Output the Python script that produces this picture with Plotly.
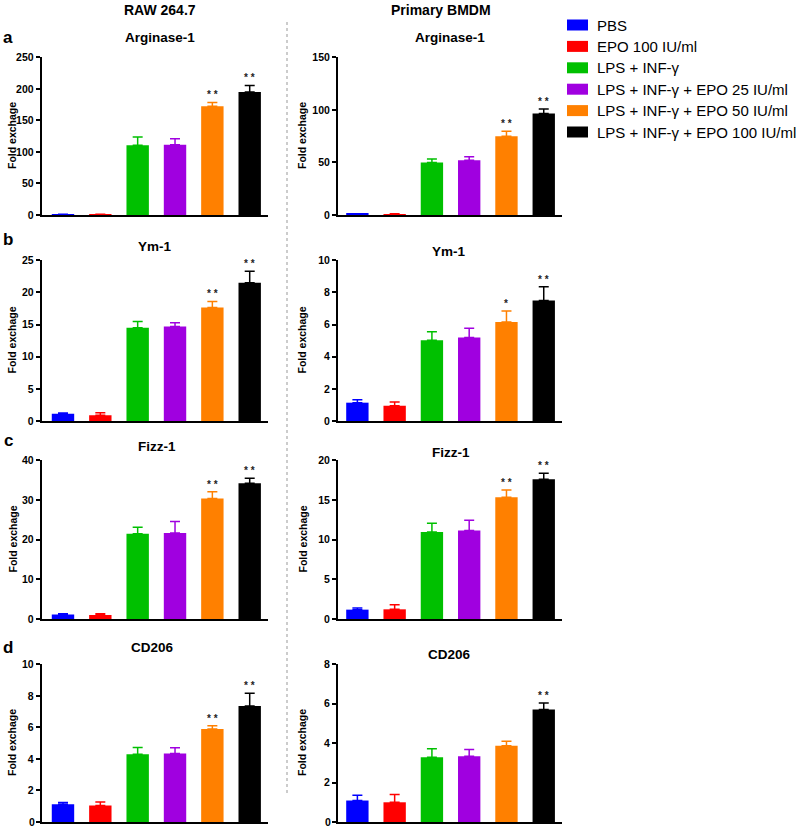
import plotly.graph_objects as go

W, H = 799, 828

categories = ["PBS", "EPO 100 IU/ml", "LPS + INF-γ", "LPS + INF-γ + EPO 25 IU/ml",
              "LPS + INF-γ + EPO 50 IU/ml", "LPS + INF-γ + EPO 100 IU/ml"]
colors = ["#0000ff", "#ff0000", "#00c000", "#a000e0", "#ff8000", "#000000"]

genes = ["Arginase-1", "Ym-1", "Fizz-1", "CD206"]
panel_letters = ["a", "b", "c", "d"]
col_headers = ["RAW 264.7", "Primary BMDM"]

# RAW 264.7
raw_arg = [1.0, 1.0, 110.5, 111.5, 172.5, 195.0]
raw_arg_err = [0.3, 0.3, 13.0, 9.5, 6.0, 10.5]
raw_ym = [1.14, 0.88, 14.5, 14.7, 17.65, 21.5]
raw_ym_err = [0.1, 0.4, 1.0, 0.6, 0.95, 1.8]
raw_fizz = [1.15, 1.0, 21.5, 21.7, 30.4, 34.2]
raw_fizz_err = [0.15, 0.3, 1.6, 2.9, 1.7, 1.3]
raw_cd = [1.12, 1.04, 4.29, 4.35, 5.9, 7.35]
raw_cd_err = [0.11, 0.23, 0.44, 0.36, 0.2, 0.82]

# Primary BMDM
bm_arg = [1.0, 0.9, 50.0, 52.0, 75.0, 96.5]
bm_arg_err = [0.2, 0.2, 3.3, 3.5, 4.7, 4.3]
bm_ym = [1.14, 0.95, 5.02, 5.2, 6.16, 7.5]
bm_ym_err = [0.19, 0.23, 0.54, 0.57, 0.69, 0.85]
bm_fizz = [1.18, 1.22, 10.95, 11.16, 15.33, 17.6]
bm_fizz_err = [0.21, 0.59, 1.13, 1.3, 0.92, 0.76]
bm_cd = [1.09, 1.0, 3.28, 3.33, 3.87, 5.71]
bm_cd_err = [0.27, 0.39, 0.44, 0.35, 0.23, 0.33]

# significance marks
raw_sig = [["", "", "", "", "* *", "* *"]] * 4
bm_sig = [["", "", "", "", "* *", "* *"],
          ["", "", "", "", "*", "* *"],
          ["", "", "", "", "* *", "* *"],
          ["", "", "", "", "", "* *"]]

raw_ymax = [250, 25, 40, 10]
raw_dtick = [50, 5, 10, 2]
bm_ymax = [150, 10, 20, 8]
bm_dtick = [50, 2, 5, 2]

raw_means = [raw_arg, raw_ym, raw_fizz, raw_cd]
raw_errs = [raw_arg_err, raw_ym_err, raw_fizz_err, raw_cd_err]
bm_means = [bm_arg, bm_ym, bm_fizz, bm_cd]
bm_errs = [bm_arg_err, bm_ym_err, bm_fizz_err, bm_cd_err]

FONT = "Liberation Sans, Arial, sans-serif"

# layout geometry (pixels from top-left)
col_x = [(41.7, 268.0), (338.0, 562.0)]
col_xrange = [(-0.57, 5.49), (-0.52, 5.49)]
row_y = [(57, 215), (260, 421), (460, 619), (664, 822)]
title_pos = [[(160, 38), (450, 38)], [(155, 246), (449, 251)],
             [(157, 447), (451, 452)], [(152, 647), (449, 654)]]
letter_y = [38, 240, 440, 647]


def ann(x, y, text, size, **kw):
    d = dict(x=x / W, y=1 - y / H, xref="paper", yref="paper", text=text,
             showarrow=False, xanchor="center", yanchor="middle",
             font=dict(family=FONT, size=size, color="black"))
    d.update(kw)
    return d


fig = go.Figure()
annotations = []
shapes = []
layout_axes = {}

idx = 0
for r in range(4):
    for c in range(2):
        idx += 1
        xa = "x" if idx == 1 else f"x{idx}"
        ya = "y" if idx == 1 else f"y{idx}"
        means = raw_means[r] if c == 0 else bm_means[r]
        errs = raw_errs[r] if c == 0 else bm_errs[r]
        sig = raw_sig[r] if c == 0 else bm_sig[r]
        ymax = raw_ymax[r] if c == 0 else bm_ymax[r]
        dtick = raw_dtick[r] if c == 0 else bm_dtick[r]
        for k in range(6):
            fig.add_trace(go.Bar(
                x=[k], y=[means[k]], width=0.6,
                marker=dict(color=colors[k], line=dict(width=0)),
                error_y=dict(type="data", symmetric=False, array=[errs[k]],
                             arrayminus=[0], color=colors[k], thickness=1.5, width=5),
                name=categories[k], showlegend=False,
                xaxis=xa, yaxis=ya,
            ))
            if sig[k]:
                annotations.append(dict(
                    x=k, y=means[k] + errs[k], xref=xa, yref=ya,
                    text=f"<b>{sig[k]}</b>", showarrow=False, xanchor="center",
                    yanchor="bottom", yshift=0,
                    font=dict(family=FONT, size=10, color="#222")))
        x0, x1 = col_x[c]
        y0, y1 = row_y[r]
        xkey = "xaxis" if idx == 1 else f"xaxis{idx}"
        ykey = "yaxis" if idx == 1 else f"yaxis{idx}"
        tickvals = list(range(0, ymax + 1, dtick))
        # bottom row: plotly drops the zero label at the page edge, so it is
        # written as an annotation instead and left blank here
        ticktext = [("" if (r == 3 and v == 0) else str(v)) for v in tickvals]
        layout_axes[xkey] = dict(
            domain=[x0 / W, x1 / W], range=list(col_xrange[c]), anchor=ya,
            showticklabels=False, ticks="", showgrid=False, zeroline=False,
            showline=True, linecolor="black", linewidth=2, automargin=False)
        layout_axes[ykey] = dict(
            domain=[1 - y1 / H, 1 - y0 / H], range=[0, ymax * 1.002], anchor=xa,
            tickmode="array", tickvals=tickvals, ticktext=ticktext,
            ticks="outside", ticklen=4, tickwidth=1.5,
            tickcolor="black", showgrid=False, zeroline=False, automargin=False,
            showline=True, linecolor="black", linewidth=2,
            ticklabeloverflow="allow",
            tickfont=dict(family=FONT, size=10.5, color="black", weight="bold"))
        annotations.append(ann(12 if c == 0 else 302, (y0 + y1) / 2,
                               "<b>Fold exchage</b>", 10.5, textangle=-90))
        tx, ty = title_pos[r][c]
        annotations.append(ann(tx, ty, f"<b>{genes[r]}</b>", 13.5))
        if r == 3:
            annotations.append(dict(
                x=x0 / W, y=0, xref="paper", yref=ya, text="<b>0</b>",
                showarrow=False, xanchor="right", yanchor="middle", xshift=-6,
                borderpad=0, font=dict(family=FONT, size=10.5, color="black")))
    annotations.append(ann(8, letter_y[r], f"<b>{panel_letters[r]}</b>", 17))

# column headers
for cx, htxt in zip([160, 441], col_headers):
    annotations.append(ann(cx, 10, f"<b>{htxt}</b>", 14))

# dotted separator
shapes.append(dict(type="line", xref="paper", yref="paper",
                   x0=287 / W, x1=287 / W, y0=1 - 793 / H, y1=1 - 20 / H,
                   line=dict(color="#999999", width=1, dash="dot")))

# legend
for k, name in enumerate(categories):
    cy = 25 + 21.4 * k
    shapes.append(dict(type="rect", xref="paper", yref="paper",
                       x0=567 / W, x1=588 / W, y0=1 - (cy + 5.5) / H, y1=1 - (cy - 5.5) / H,
                       fillcolor=colors[k], line=dict(width=0)))
    annotations.append(ann(595, cy, name, 15, xanchor="left"))

fig.update_layout(
    width=W, height=H, margin=dict(l=0, r=0, t=0, b=0, pad=0, autoexpand=False),
    paper_bgcolor="white", plot_bgcolor="white",
    showlegend=False, barmode="overlay",
    annotations=annotations, shapes=shapes, **layout_axes)

fig.write_html("out.html", config={"displayModeBar": False},
               post_script="document.body.style.margin='0px';document.body.style.overflow='hidden';")
